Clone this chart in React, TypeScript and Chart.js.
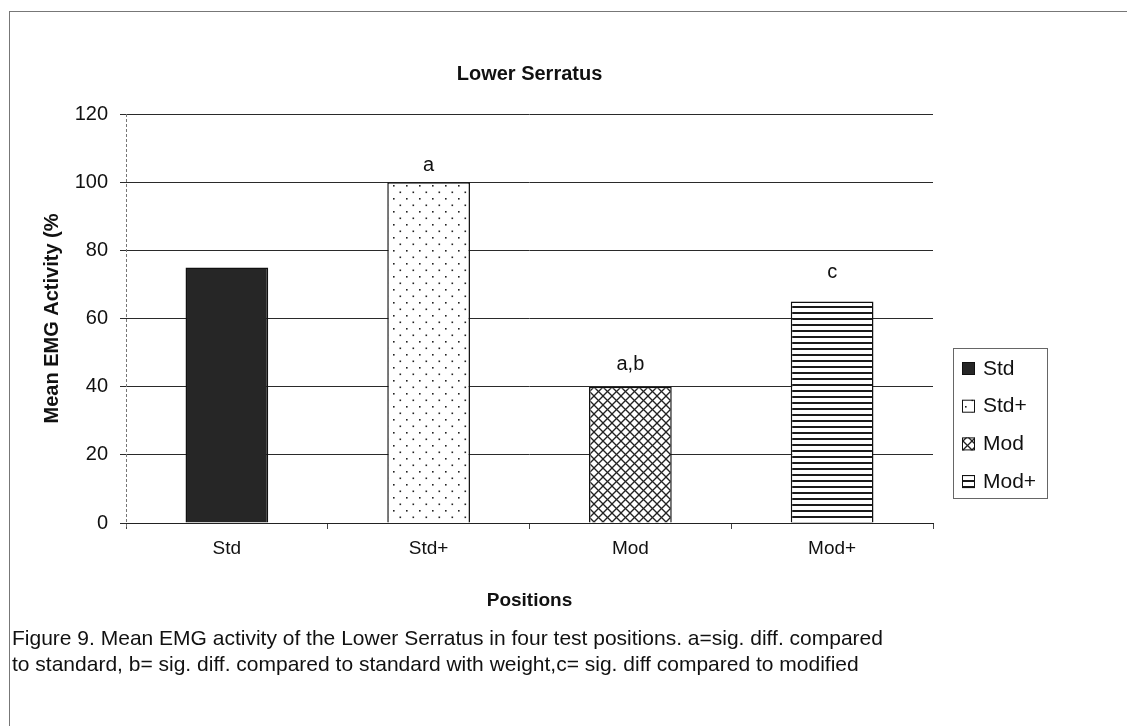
import React, { useEffect, useRef } from 'react';
import { Chart, registerables } from 'chart.js';

Chart.register(...registerables);

const FONT = '"Liberation Sans", Arial, Helvetica, sans-serif';

const categories = ['Std', 'Std+', 'Mod', 'Mod+'];
const seriesLabels = ['Std', 'Std+', 'Mod', 'Mod+'];
const meanEmg = [75, 100, 40, 65];
const sigLabels = ['', 'a', 'a,b', 'c'];
const sigLabelValues = [0, 104.8, 46.4, 73.6];
const yTicks = [0, 20, 40, 60, 80, 100, 120];
const seriesFills = ['solid', 'dots', 'cross', 'hlines'];
const chartTitle = 'Lower Serratus';
const yTitle = 'Mean EMG Activity (%';
const xTitle = 'Positions';
const captionLines = [
  'Figure 9. Mean EMG activity of the Lower Serratus in four test positions. a=sig. diff. compared',
  'to standard, b= sig. diff. compared to standard with weight,c= sig. diff compared to modified',
];

function makeFill(kind: string): CanvasPattern | string {
  if (kind === 'solid') return '#262626';
  const c = document.createElement('canvas');
  const ctx = c.getContext('2d')!;
  if (kind === 'dots') {
    c.width = 13; c.height = 13;
    ctx.fillStyle = '#fff'; ctx.fillRect(0, 0, 13, 13);
    ctx.fillStyle = '#222';
    ctx.fillRect(3, 3, 1.6, 1.6);
    ctx.fillRect(9.5, 9.5, 1.6, 1.6);
  } else if (kind === 'cross') {
    const s = 9;
    c.width = s; c.height = s;
    ctx.fillStyle = '#fff'; ctx.fillRect(0, 0, s, s);
    ctx.strokeStyle = '#222'; ctx.lineWidth = 1.3;
    for (const o of [-s, 0, s]) {
      ctx.beginPath(); ctx.moveTo(o, 0); ctx.lineTo(o + s, s); ctx.stroke();
      ctx.beginPath(); ctx.moveTo(o + s, 0); ctx.lineTo(o, s); ctx.stroke();
    }
  } else {
    c.width = 4; c.height = 6;
    ctx.fillStyle = '#fff'; ctx.fillRect(0, 0, 4, 6);
    ctx.fillStyle = '#1a1a1a'; ctx.fillRect(0, 0, 4, 2);
  }
  return ctx.createPattern(c, 'repeat')!;
}

const overlayPlugin = {
  id: 'overlay',
  beforeDatasetsDraw(chart: any) {
    const ctx = chart.ctx as CanvasRenderingContext2D;
    const a = chart.chartArea;
    ctx.save();
    ctx.strokeStyle = '#777';
    ctx.lineWidth = 1;
    ctx.setLineDash([3, 2]);
    ctx.beginPath();
    ctx.moveTo(a.left + 0.5, a.top);
    ctx.lineTo(a.left + 0.5, a.bottom + 5);
    ctx.stroke();
    ctx.restore();
  },
  afterDatasetsDraw(chart: any) {
    const ctx = chart.ctx as CanvasRenderingContext2D;
    const xs = chart.scales.x;
    const ys = chart.scales.y;
    ctx.save();
    ctx.fillStyle = '#111';
    ctx.font = `20px ${FONT}`;
    ctx.textAlign = 'center';
    ctx.textBaseline = 'middle';
    sigLabels.forEach((t, i) => {
      if (!t) return;
      ctx.fillText(t, xs.getPixelForValue(i), ys.getPixelForValue(sigLabelValues[i]));
    });

    // legend box
    const bx = 953, by = 348, bw = 94, bh = 150;
    ctx.strokeStyle = '#666';
    ctx.lineWidth = 1;
    ctx.strokeRect(bx + 0.5, by + 0.5, bw, bh);
    ctx.textAlign = 'left';
    ctx.font = `21px ${FONT}`;
    chart.data.datasets.forEach((ds: any, i: number) => {
      const cy = by + 20 + i * 37.7;
      ctx.fillStyle = ds.backgroundColor;
      ctx.fillRect(962, cy - 6, 13, 13);
      ctx.strokeStyle = '#111';
      ctx.strokeRect(962.5, cy - 5.5, 12, 12);
      ctx.fillStyle = '#111';
      ctx.fillText(ds.label, 983, cy + 1);
    });
    ctx.restore();
  },
};

export default function App() {
  const ref = useRef<HTMLCanvasElement>(null);
  useEffect(() => {
    Chart.defaults.font.family = FONT;
    const datasets = seriesLabels.map((label, si) => ({
      label,
      data: categories.map((_, ci) => (ci === si ? meanEmg[ci] : null)),
      backgroundColor: makeFill(seriesFills[si]) as any,
      borderColor: '#111',
      borderWidth: 1.5,
      categoryPercentage: 1,
      barPercentage: 0.41,
    }));
    const chart = new Chart(ref.current!, {
      type: 'bar',
      data: { labels: categories, datasets },
      options: {
        responsive: false,
        animation: false,
        devicePixelRatio: 1,
        layout: { padding: { left: 0, top: 0, right: 194, bottom: 103 } },
        plugins: {
          legend: { display: false },
          tooltip: { enabled: false },
          title: {
            display: true,
            text: chartTitle,
            fullSize: false,
            color: '#111',
            font: { size: 20, weight: 'bold', family: FONT },
            padding: { top: 62, bottom: 28 },
          },
        },
        scales: {
          x: {
            stacked: true,
            offset: true,
            grid: { display: true, drawOnChartArea: false, drawTicks: true, tickLength: 6, color: '#444', offset: true },
            border: { display: true, color: '#222', width: 1 },
            ticks: { color: '#111', font: { size: 19, family: FONT }, padding: 8 },
            title: {
              display: true,
              text: xTitle,
              color: '#111',
              font: { size: 19, weight: 'bold', family: FONT },
              padding: { top: 0, bottom: 11 },
            },
            afterFit: (s: any) => { s.height = 100; },
          },
          y: {
            stacked: true,
            min: 0,
            max: 120,
            afterBuildTicks: (s: any) => { s.ticks = yTicks.map((v) => ({ value: v })); },
            ticks: { color: '#111', font: { size: 20, family: FONT }, padding: 12 },
            grid: { color: '#2a2a2a', lineWidth: 1, tickLength: 6 },
            border: { display: false },
            title: {
              display: true,
              text: yTitle,
              color: '#111',
              font: { size: 20, weight: 'bold', family: FONT },
              padding: { top: 40, bottom: 0 },
            },
            afterFit: (s: any) => { s.width = 126; },
          },
        },
      },
      plugins: [overlayPlugin],
    } as any);
    return () => chart.destroy();
  }, []);

  return (
    <div style={{ position: 'fixed', left: 0, top: 0, width: 1127, height: 726, overflow: 'hidden', background: '#fff' }}>
      <div style={{ position: 'absolute', left: 9, top: 11, width: 1200, height: 800, borderTop: '1px solid #777', borderLeft: '1px solid #777' }} />
      <canvas ref={ref} width={1127} height={726} style={{ position: 'absolute', left: 0, top: 0, width: 1127, height: 726 }} />
      <div style={{ position: 'absolute', left: 12, top: 625, font: `21px ${FONT}`, lineHeight: '26px', color: '#111', whiteSpace: 'nowrap' }}>
        {captionLines.map((l, i) => (
          <div key={i}>{l}</div>
        ))}
      </div>
    </div>
  );
}
